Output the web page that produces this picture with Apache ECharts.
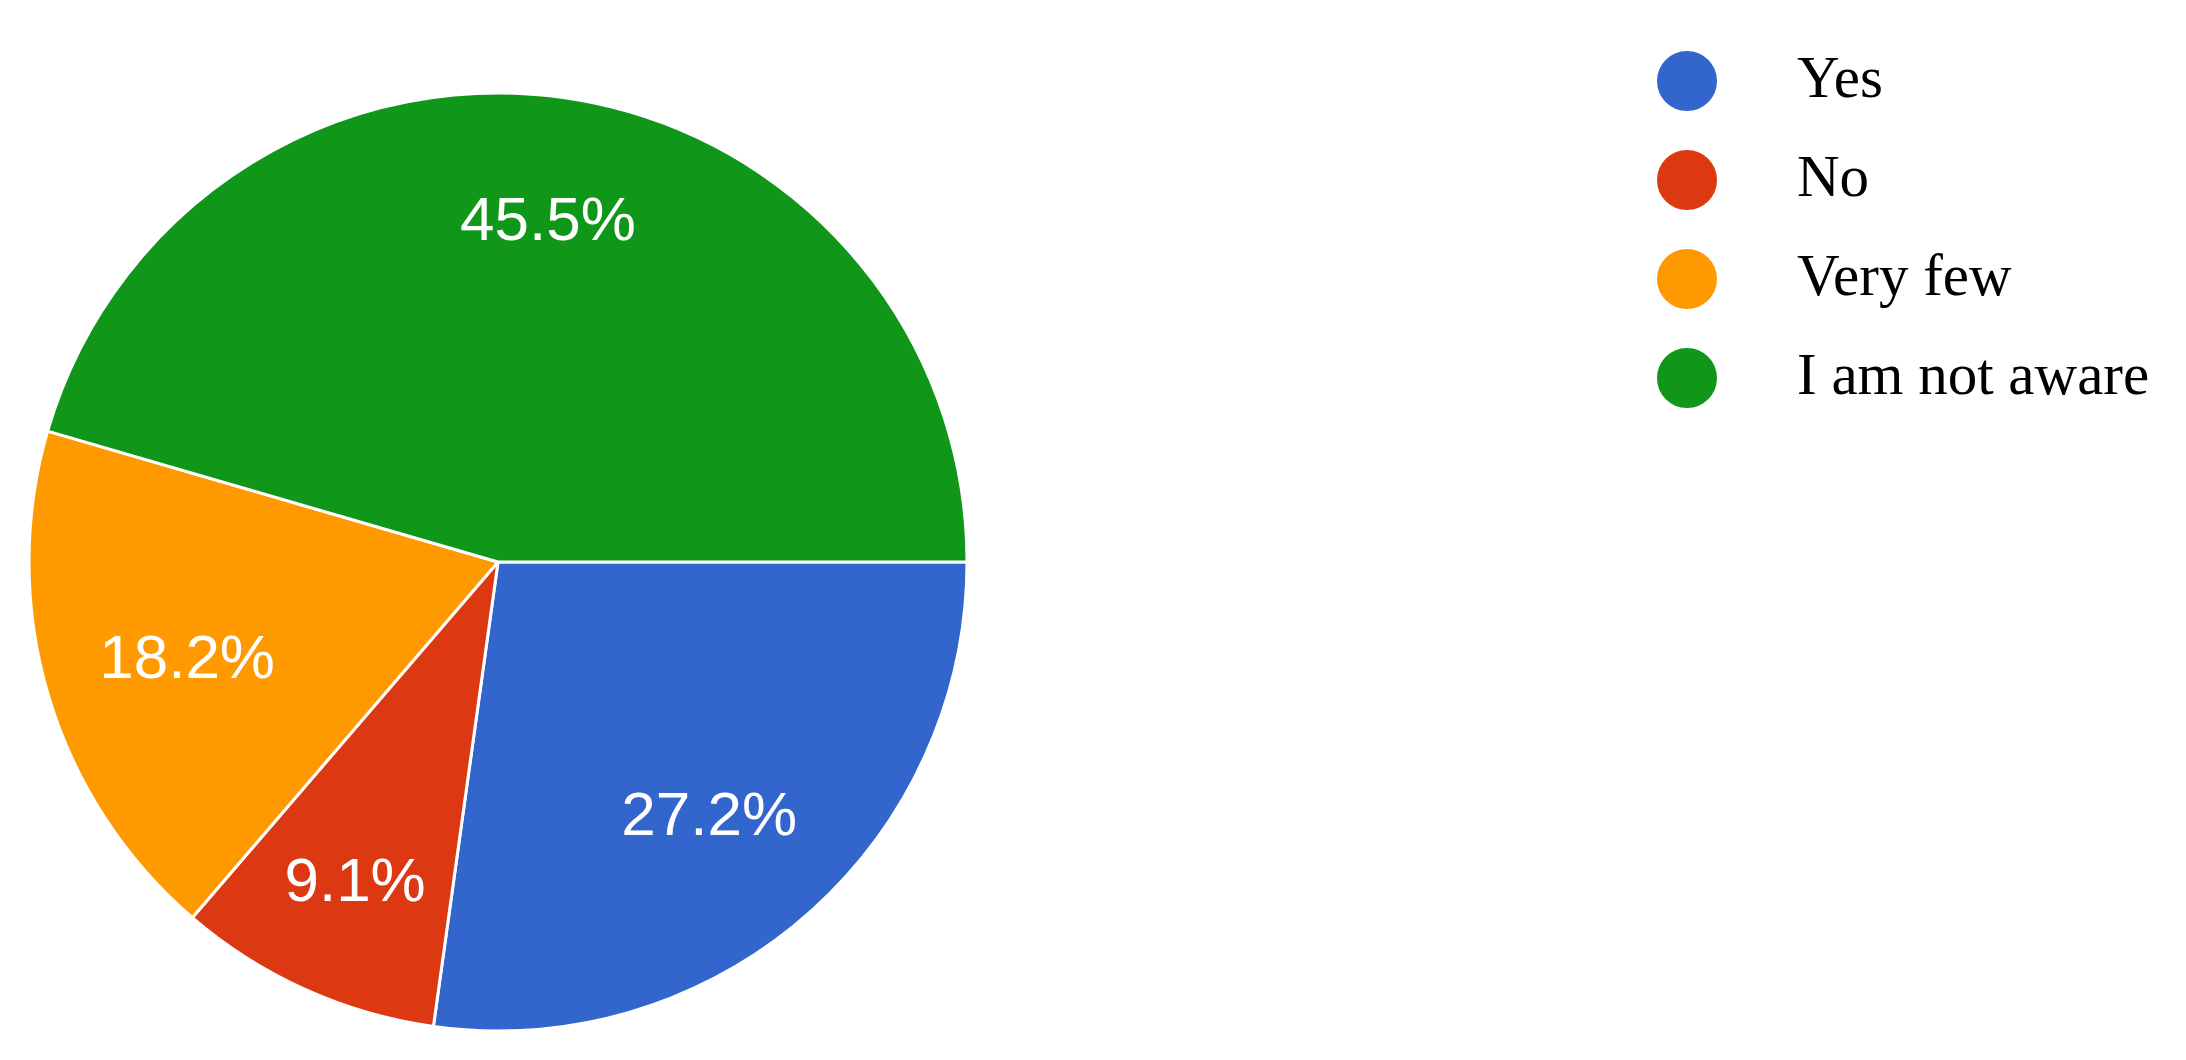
<!DOCTYPE html>
<html><head><meta charset="utf-8">
<script src="https://cdn.jsdelivr.net/npm/echarts@6/dist/echarts.min.js"></script>
<style>html,body{margin:0;padding:0;background:#fff}#c{width:2186px;height:1060px}</style>
</head><body><div id="c"></div>
<script>
const categories = ['Yes', 'No', 'Very few', 'I am not aware'];
const values = [27.2, 9.1, 18.2, 45.5];
const colors = ['#3366CC', '#DC3912', '#FF9900', '#109618'];
// fine label nudges (style only)
const labelNudges = [[-12, -1], [-3, 12], [15, 2], [2, -2]];

const data = categories.map((n, i) => ({ name: n, value: values[i], itemStyle: { color: colors[i] } }));
const chart = echarts.init(document.getElementById('c'));
chart.setOption({
  animation: false,
  legend: {
    orient: 'vertical', left: 1650, top: 44,
    icon: 'circle', itemWidth: 62, itemHeight: 62, itemGap: 35,
    data: categories,
    textStyle: { fontFamily: 'Liberation Serif', fontSize: 59, color: '#000', padding: [0, 0, 0, 74] }
  },
  series: [{
    type: 'pie', center: [498, 562], radius: [0, 469],
    startAngle: 0, clockwise: true, silent: true,
    itemStyle: { borderColor: '#fff', borderWidth: 3 },
    label: { show: false }, labelLine: { show: false },
    data: data
  }, {
    type: 'pie', center: [498, 562], radius: [205, 469],
    startAngle: 0, clockwise: true, silent: true,
    itemStyle: { color: 'rgba(0,0,0,0)', borderWidth: 0 },
    label: { show: true, position: 'inside', formatter: p => p.value.toFixed(1) + '%',
      color: '#fff', fontFamily: 'Liberation Sans', fontSize: 62 },
    labelLine: { show: false },
    data: categories.map((n, i) => ({ name: n + ' ', value: values[i], label: { offset: labelNudges[i] } })),
    legendHoverLink: false
  }]
});
</script></body></html>
